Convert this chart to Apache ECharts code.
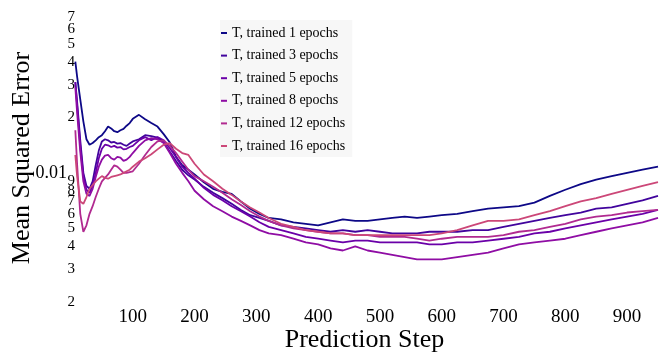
<!DOCTYPE html>
<html>
<head>
<meta charset="utf-8">
<script src="https://cdn.jsdelivr.net/npm/echarts@6/dist/echarts.min.js"></script>
<style>
  html, body { margin: 0; padding: 0; background: #fff; }
  #chart { width: 667px; height: 354px; }
</style>
</head>
<body>
<div id="chart"></div>
<script>
// Prediction steps shared by every curve
const steps = [7, 10, 15, 20, 25, 30, 35, 40, 45, 50, 55, 60, 65, 70, 75, 80, 85, 90, 95, 100, 110, 120, 130, 140, 150, 160,
  170, 180, 190, 200, 215, 230, 245, 260, 275, 290, 305, 320, 340, 360, 380, 400, 420, 440, 460, 480,
  500, 520, 540, 560, 580, 600, 625, 650, 675, 700, 725, 750, 775, 800, 825, 850, 875, 900, 925, 950];

// Mean squared error per training length
const mse1 = [0.040, 0.033, 0.025, 0.019, 0.0152, 0.0142, 0.0145, 0.0150, 0.0156, 0.0160, 0.0168, 0.0178, 0.0174, 0.0168, 0.0166, 0.0170, 0.0173, 0.0180, 0.0186, 0.0196, 0.0206, 0.0195, 0.0186, 0.0178, 0.0162, 0.0146,
  0.0122, 0.0110, 0.0104, 0.0098, 0.0089, 0.0082, 0.0079, 0.0077, 0.0070, 0.0064, 0.0060, 0.0057, 0.0056, 0.0054, 0.0053, 0.0052, 0.0054, 0.0056, 0.0055, 0.0055,
  0.0056, 0.0057, 0.0058, 0.0057, 0.0058, 0.0059, 0.0060, 0.0062, 0.0064, 0.0065, 0.0066, 0.0069, 0.0075, 0.0081, 0.0087, 0.0092, 0.0096, 0.0100, 0.0104, 0.0108];
const mse3 = [0.031, 0.024, 0.015, 0.0100, 0.0085, 0.0082, 0.0090, 0.0110, 0.0132, 0.0148, 0.0152, 0.0150, 0.0146, 0.0147, 0.0144, 0.0145, 0.0142, 0.0140, 0.0144, 0.0148, 0.0152, 0.0160, 0.0158, 0.0155, 0.0146, 0.0130,
  0.0116, 0.0104, 0.0097, 0.0092, 0.0084, 0.0078, 0.0073, 0.0068, 0.0063, 0.0059, 0.0057, 0.0055, 0.0052, 0.0051, 0.0050, 0.0049, 0.0048, 0.0049, 0.0048, 0.0049,
  0.0048, 0.0047, 0.0047, 0.0047, 0.0048, 0.0048, 0.0048, 0.0049, 0.0049, 0.0051, 0.0053, 0.0055, 0.0057, 0.0059, 0.0061, 0.0064, 0.0065, 0.0068, 0.0071, 0.0075];
const mse5 = [0.031, 0.023, 0.014, 0.0096, 0.0081, 0.0078, 0.0085, 0.0100, 0.0120, 0.0135, 0.0142, 0.0141, 0.0138, 0.0140, 0.0137, 0.0138, 0.0134, 0.0135, 0.0138, 0.0140, 0.0150, 0.0156, 0.0150, 0.0156, 0.0150, 0.0136,
  0.0122, 0.0108, 0.0100, 0.0093, 0.0083, 0.0076, 0.0071, 0.0066, 0.0062, 0.0058, 0.0054, 0.0051, 0.0049, 0.0047, 0.0045, 0.0044, 0.0043, 0.0042, 0.0043, 0.0043,
  0.0042, 0.0042, 0.0042, 0.0042, 0.0041, 0.0041, 0.0042, 0.0042, 0.0043, 0.0044, 0.0045, 0.0047, 0.0048, 0.0050, 0.0052, 0.0054, 0.0056, 0.0058, 0.0060, 0.0063];
const mse8 = [0.029, 0.021, 0.013, 0.0090, 0.0077, 0.0075, 0.0082, 0.0095, 0.0108, 0.0118, 0.0124, 0.0125, 0.0120, 0.0118, 0.0122, 0.0121, 0.0116, 0.0118, 0.0122, 0.0128, 0.0140, 0.0150, 0.0154, 0.0152, 0.0145, 0.0128,
  0.0112, 0.0100, 0.0090, 0.0080, 0.0072, 0.0066, 0.0062, 0.0058, 0.0055, 0.0052, 0.0049, 0.0047, 0.0046, 0.0044, 0.0042, 0.0041, 0.0039, 0.0038, 0.0040, 0.0038,
  0.0037, 0.0036, 0.0035, 0.0034, 0.0034, 0.0034, 0.0035, 0.0036, 0.0037, 0.0039, 0.0041, 0.0042, 0.0043, 0.0044, 0.0046, 0.0048, 0.0050, 0.0052, 0.0054, 0.0057];
const mse12 = [0.017, 0.0110, 0.0060, 0.0048, 0.0052, 0.0060, 0.0066, 0.0074, 0.0082, 0.0090, 0.0094, 0.0098, 0.0104, 0.0110, 0.0108, 0.0104, 0.0100, 0.0100, 0.0101, 0.0102, 0.0112, 0.0125, 0.0138, 0.0148, 0.0150, 0.0140,
  0.0128, 0.0115, 0.0104, 0.0096, 0.0090, 0.0084, 0.0078, 0.0072, 0.0067, 0.0062, 0.0058, 0.0055, 0.0052, 0.0050, 0.0049, 0.0048, 0.0047, 0.0047, 0.0046, 0.0046,
  0.0045, 0.0045, 0.0045, 0.0044, 0.0043, 0.0044, 0.0045, 0.0045, 0.0045, 0.0046, 0.0048, 0.0049, 0.0051, 0.0053, 0.0056, 0.0058, 0.0059, 0.0061, 0.0062, 0.0063];
const mse16 = [0.0125, 0.0095, 0.0070, 0.0068, 0.0074, 0.0082, 0.0086, 0.0090, 0.0093, 0.0096, 0.0094, 0.0093, 0.0095, 0.0096, 0.0097, 0.0098, 0.0100, 0.0102, 0.0104, 0.0108, 0.0115, 0.0120, 0.0126, 0.0134, 0.0142, 0.0145,
  0.0135, 0.0128, 0.0125, 0.0112, 0.0098, 0.0090, 0.0082, 0.0076, 0.0070, 0.0065, 0.0061, 0.0057, 0.0053, 0.0051, 0.0049, 0.0048, 0.0047, 0.0047, 0.0046, 0.0046,
  0.0046, 0.0046, 0.0046, 0.0046, 0.0046, 0.0047, 0.0049, 0.0052, 0.0055, 0.0055, 0.0056, 0.0059, 0.0062, 0.0066, 0.0070, 0.0073, 0.0077, 0.0081, 0.0085, 0.0089];

const seriesNames = ['T, trained 1 epochs', 'T, trained 3 epochs', 'T, trained 5 epochs',
  'T, trained 8 epochs', 'T, trained 12 epochs', 'T, trained 16 epochs'];
const seriesValues = [mse1, mse3, mse5, mse8, mse12, mse16];
const seriesColors = ['#0d0887', '#41049d', '#6a00a8', '#8f0da4', '#b12a90', '#cc4778'];

// Log-axis ticks and the text shown at each
const yTickValues = [0.002, 0.003, 0.004, 0.005, 0.006, 0.007, 0.008, 0.009, 0.01,
  0.02, 0.03, 0.04, 0.05, 0.06, 0.07];
const yTickLabels = ['2', '3', '4', '5', '6', '7', '8', '9', '0.01', '2', '3', '4', '5', '6', '7'];

const FONT = '"Liberation Serif", "Times New Roman", serif';

function yLabel(v) {
  let best = 0, bestDiff = Infinity;
  yTickValues.forEach((t, i) => {
    const d = Math.abs(Math.log10(v) - Math.log10(t));
    if (d < bestDiff) { bestDiff = d; best = i; }
  });
  const text = yTickLabels[best];
  return text.indexOf('.') >= 0 ? '{major|' + text + '}' : '{minor|' + text + '}';
}

// Several log axes share one range; the two crowded top ticks each get their
// own axis so none of the closely spaced labels is dropped.
function logAxis(values, withName) {
  const axis = {
    type: 'log',
    logBase: 10,
    min: 0.002,
    max: 0.08,
    position: 'left',
    offset: 0,
    axisLine: { show: false },
    axisTick: { show: false },
    minorTick: { show: false },
    splitLine: { show: false },
    axisLabel: {
      customValues: values,
      showMinLabel: true,
      showMaxLabel: true,
      hideOverlap: false,
      margin: -4,
      color: '#000',
      fontFamily: FONT,
      formatter: yLabel,
      rich: {
        minor: { fontFamily: FONT, fontSize: 15, color: '#000' },
        major: { fontFamily: FONT, fontSize: 18, color: '#000', padding: [0, 8, 0, 0] }
      }
    }
  };
  if (withName) {
    Object.assign(axis, {
      name: 'Mean Squared Error',
      nameLocation: 'middle',
      nameGap: 36,
      nameMoveOverlap: false,
      nameTextStyle: { fontFamily: FONT, fontSize: 26, color: '#000', padding: [0, 8, 0, 0] }
    });
  }
  return axis;
}

const chart = echarts.init(document.getElementById('chart'), null, { renderer: 'canvas' });

chart.setOption({
  backgroundColor: '#ffffff',
  animation: false,
  textStyle: { fontFamily: FONT, color: '#000' },
  grid: { left: 71, right: 9, top: 6, bottom: 52, containLabel: false, outerBoundsMode: 'none' },
  legend: {
    orient: 'vertical',
    left: 220,
    top: 20,
    padding: [6, 7, 4, 1],
    backgroundColor: '#f7f7f7',
    icon: 'rect',
    itemWidth: 6,
    itemHeight: 2,
    itemGap: 8.6,
    textStyle: { fontFamily: FONT, fontSize: 14, color: '#000', lineHeight: 14 },
    data: seriesNames
  },
  xAxis: {
    type: 'value',
    min: 0,
    max: 950,
    interval: 100,
    name: 'Prediction Step',
    nameLocation: 'middle',
    nameGap: 25,
    nameMoveOverlap: false,
    nameTextStyle: { fontFamily: FONT, fontSize: 26, color: '#000' },
    axisLine: { show: false },
    axisTick: { show: false },
    splitLine: { show: false },
    axisLabel: {
      margin: 6,
      fontFamily: FONT,
      fontSize: 19,
      color: '#000',
      formatter: v => (v === 0 || v % 100 !== 0 ? '' : String(v))
    }
  },
  yAxis: [
    logAxis(yTickValues.slice(0, -2), true),
    logAxis(yTickValues.slice(-2, -1), false),
    logAxis(yTickValues.slice(-1), false)
  ],
  series: seriesNames.map((name, i) => ({
    name: name,
    type: 'line',
    yAxisIndex: 0,
    showSymbol: false,
    symbol: 'none',
    color: seriesColors[i],
    lineStyle: { width: 1.8, color: seriesColors[i] },
    data: steps.map((s, j) => [s, seriesValues[i][j]])
  }))
});
</script>
</body>
</html>
